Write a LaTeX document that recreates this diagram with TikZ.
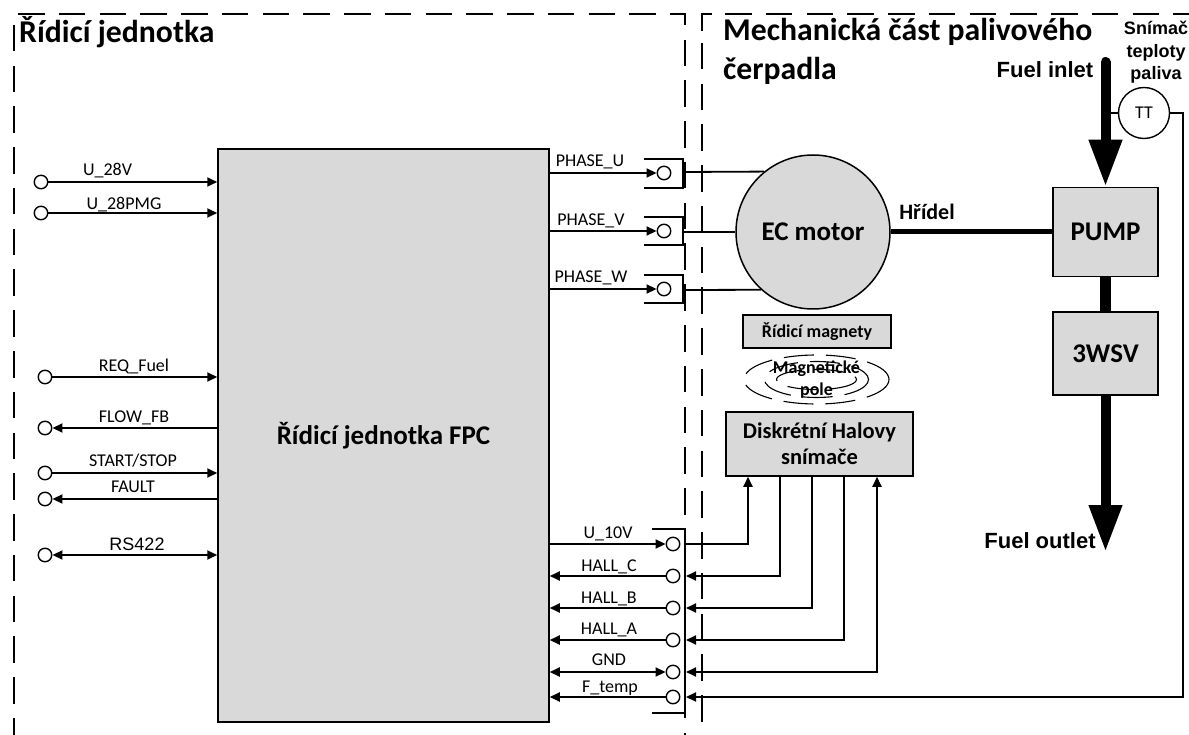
\documentclass[tikz,border=0pt]{standalone}
\usepackage{fontspec}
\setmainfont{Carlito}
\newfontfamily\arialfont{Liberation Sans}
\usetikzlibrary{arrows.meta,positioning}
\definecolor{boxgray}{HTML}{D9D9D9}

\begin{document}
\begin{tikzpicture}[
			x=1pt, y=-1pt,
			block/.style = {draw=black, fill=boxgray, line width=1.5pt, inner sep=0pt, align=center, font=\bfseries\fontsize{27}{32}\selectfont},
			term/.style = {circle, draw=black, fill=white, line width=1.4pt, minimum size=13.5pt, inner sep=0pt},
			sig/.style = {line width=1.8pt, -{Triangle[length=10pt,width=9pt]}},
			sigboth/.style = {line width=1.8pt, {Triangle[length=10pt,width=9pt]}-{Triangle[length=10pt,width=9pt]}},
			wire/.style = {line width=1.8pt},
			holder/.style = {line width=1.9pt},
			border/.style = {line width=1.3pt, dash pattern=on 26.5pt off 14.25pt},
			field/.style = {line width=1.1pt, dash pattern=on 30pt off 12pt},
			fuel/.style = {line width=10pt, line cap=round, -{Triangle[length=47pt,width=31pt]}},
			label/.style = {inner sep=0pt, font=\fontsize{18}{20}\selectfont},
			title/.style = {inner sep=0pt, anchor=west, font=\bfseries\fontsize{31.7}{36}\selectfont},
			heading/.style = {inner sep=0pt, font=\arialfont\bfseries\fontsize{22}{26}\selectfont}
			]
			\useasboundingbox (0,0) rectangle (1189,735);

			% dashed borders
			\draw[border] (18,14) -- (685,14) -- (685,735);
			\draw[border] (14,25) -- (14,735);
			\draw[border] (725,14) -- (1189,14);
			\draw[border] (702,43) -- (702,735);
			\draw[line width=1.3pt] (712,14) -- (702,14) -- (702,31);

			\node[title] (titleL) at (19,32) {Řídicí jednotka};
			\node[title] (titleR) at (723,32) {Mechanická část palivového};
			\node[title] (titleR2) at (723,71) {čerpadla};

			% blocks
			\node[block, minimum width=331pt, minimum height=573pt] (fpc) at (383.5,435.5) {Řídicí jednotka FPC};
			\node[block, circle, minimum size=154pt] (motor) at (813,232) {EC motor};
			\node[block, minimum width=105pt, minimum height=89pt] (pump) at (1105.5,232) {PUMP};
			\node[block, minimum width=105pt, minimum height=83pt] (wsv) at (1105.5,353.5) {3WSV};
			\node[block, minimum width=148pt, minimum height=33pt, font=\bfseries\fontsize{18}{20}\selectfont] (magnets) at (817,331.5) {Řídicí magnety};
			\node[block, minimum width=187pt, minimum height=64pt, font=\bfseries\fontsize{22.5}{26}\selectfont] (hall) at (819.5,444) {Diskrétní Halovy\\snímače};

			% field lines
			\coordinate (fieldC) at (816.5,379.5);
			\draw[field] (fieldC) ellipse [x radius=72.5, y radius=24.5];
			\draw[field] (fieldC) ellipse [x radius=52, y radius=18];
			\draw[field] (fieldC) ellipse [x radius=40, y radius=10];
			\node[inner sep=0pt, align=center, font=\bfseries\fontsize{18}{22}\selectfont] (fieldL) at (fieldC) {Magnetické\\pole};

			% left side
			\node[term] (u28) at (41,182) {};
			\node[term] (u28pmg) at (41,213) {};
			\node[term] (req) at (45,377) {};
			\node[term] (flow) at (45,428) {};
			\node[term] (start) at (45,473) {};
			\node[term] (fault) at (45,499) {};
			\node[term] (rs) at (45,555) {};
			\draw[sig] (u28) -- (u28 -| fpc.west);
			\draw[sig] (u28pmg) -- (u28pmg -| fpc.west);
			\draw[sig] (req) -- (req -| fpc.west);
			\draw[sig] (flow -| fpc.west) -- (flow);
			\draw[sig] (start) -- (start -| fpc.west);
			\draw[sig] (fault -| fpc.west) -- (fault);
			\draw[sigboth] (rs) -- (rs -| fpc.west);
			\node[label] (u28L) at (107.5,171) {U\_28V};
			\node[label] (u28pmgL) at (124,205) {U\_28PMG};
			\node[label] (reqL) at (134,366.5) {REQ\_Fuel};
			\node[label] (flowL) at (134,418) {FLOW\_FB};
			\node[label] (startL) at (133,461) {START/STOP};
			\node[label] (faultL) at (133,487) {FAULT};
			\node[label, font=\arialfont\fontsize{18}{20}\selectfont] (rsL) at (137,544) {RS422};

			% motor phases
			\node[term] (phU) at (664,173) {};
			\node[term] (phV) at (664,231) {};
			\node[term] (phW) at (664,289) {};
			\draw[sig] (phU -| fpc.east) -- (phU);
			\draw[sig] (phV -| fpc.east) -- (phV);
			\draw[sig] (phW -| fpc.east) -- (phW);
			\draw[holder] (644,159) -- (683,159) -- (683,188) -- (644,188);
			\draw[holder] (644,217) -- (683,217) -- (683,245) -- (644,245);
			\draw[holder] (644,275) -- (683,275) -- (683,303) -- (644,303);
			\coordinate (phUout) at (683,172);
			\coordinate (phVout) at (683,232);
			\coordinate (phWout) at (683,290);
			\draw[wire] (phUout) -- (motor.129.5);
			\draw[wire] (phVout) -- (motor.west);
			\draw[wire] (phWout) -- (motor.228.2);
			\node[label] (phUL) at (590,162) {PHASE\_U};
			\node[label] (phVL) at (591,221) {PHASE\_V};
			\node[label] (phWL) at (591,278) {PHASE\_W};

			% hall connector
			\draw[holder] (652,529) -- (685,529) -- (685,713) -- (652,713);
			\coordinate (bar) at (686,600);
			\node[term] (u10) at (673,544) {};
			\node[term] (hallC) at (673,576) {};
			\node[term] (hallB) at (673,608) {};
			\node[term] (hallA) at (673,640) {};
			\node[term] (gnd) at (673,672) {};
			\node[term] (ftemp) at (673,697) {};
			\draw[sig] (u10 -| fpc.east) -- (u10);
			\draw[sig] (hallC) -- (hallC -| fpc.east);
			\draw[sig] (hallB) -- (hallB -| fpc.east);
			\draw[sig] (hallA) -- (hallA -| fpc.east);
			\draw[sigboth] (gnd -| fpc.east) -- (gnd);
			\draw[sig] (ftemp) -- (ftemp -| fpc.east);
			\node[label] (u10L) at (608,534) {U\_10V};
			\node[label] (hallCL) at (609,567) {HALL\_C};
			\node[label] (hallBL) at (609,599) {HALL\_B};
			\node[label] (hallAL) at (609,630) {HALL\_A};
			\node[label] (gndL) at (609,660) {GND};
			\node[label] (ftempL) at (610,688) {F\_temp};

			\coordinate (hall1) at (748,544);
			\coordinate (hall2) at (780,576);
			\coordinate (hall3) at (812,608);
			\coordinate (hall4) at (844,640);
			\coordinate (hall5) at (877,672);
			\draw[sig] (u10 -| bar) -- (hall1) -- (hall1 |- hall.south);
			\draw[sig] (hall2 |- hall.south) -- (hall2) -- (hall2 -| bar);
			\draw[sig] (hall3 |- hall.south) -- (hall3) -- (hall3 -| bar);
			\draw[sig] (hall4 |- hall.south) -- (hall4) -- (hall4 -| bar);
			\draw[sigboth] (hall5 |- hall.south) -- (hall5) -- (hall5 -| bar);

			% fuel path
			\coordinate (inlet) at (1105.5,62);
			\coordinate (outlet) at (1105.5,552);
			\draw[line width=5pt] (motor.east) -- (pump.west);
			\draw[line width=11pt] (pump.south) -- (wsv.north);
			\draw[fuel] (inlet) -- (pump.north);
			\draw[fuel, line cap=butt] (wsv.south) -- (outlet);
			\node[heading] (inletL) at (1045,70) {Fuel inlet};
			\node[heading] (outletL) at (1040,541) {Fuel outlet};
			\node[inner sep=0pt, font=\bfseries\fontsize{22}{24}\selectfont] (shaftL) at (927,212) {Hřídel};

			% temperature sensor
			\node[term, minimum size=51pt, font=\fontsize{18}{20}\selectfont] (tt) at (1144,113) {TT};
			\node[inner sep=0pt, align=center, font=\arialfont\bfseries\fontsize{18}{22.5}\selectfont] (ttL) at (1156,52.5) {Snímač\\teploty\\paliva};
			\coordinate (ttbend) at (1183,113);
			\coordinate (ttbend2) at (1183,697);
			\draw[wire] (tt.west) -- (inlet |- tt.west);
			\draw[sig] (tt.east) -- (ttbend) -- (ttbend2) -- (ftemp -| bar);
		\end{tikzpicture}
\end{document}
